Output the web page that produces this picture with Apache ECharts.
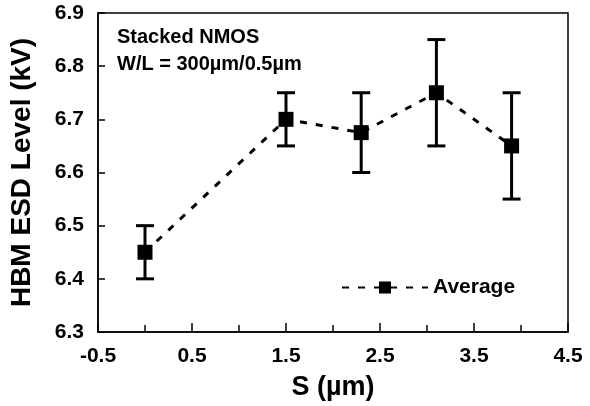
<!DOCTYPE html>
<html><head><meta charset="utf-8">
<script src="https://cdn.jsdelivr.net/npm/echarts@6/dist/echarts.min.js"></script>
<style>html,body{margin:0;padding:0;background:#fff}#c{width:590px;height:406px}</style>
</head><body><div id="c"></div>
<script>
var sValues = [0, 1.5, 2.3, 3.1, 3.9];
var avgValues = [6.45, 6.70, 6.675, 6.75, 6.65];
var lowValues = [6.40, 6.65, 6.60, 6.65, 6.55];
var highValues = [6.50, 6.75, 6.75, 6.85, 6.75];
var seriesName = 'Average';
var noteLines = ['Stacked NMOS', 'W/L = 300\u00b5m/0.5\u00b5m'];

var FONT = '"Liberation Sans", Arial, sans-serif';
var chart = echarts.init(document.getElementById('c'));
var lineData = sValues.map(function (x, i) { return [x, avgValues[i]]; });
var errData = sValues.map(function (x, i) { return [x, lowValues[i], highValues[i]]; });

chart.setOption({
  animation: false,
  grid: { left: 97, right: 22, top: 13, bottom: 68, show: true, borderColor: '#000', borderWidth: 1.5 },
  legend: {
    data: [seriesName], left: 336, top: 272, itemWidth: 86, itemHeight: 15, itemGap: 14,
    textStyle: { fontFamily: FONT, fontWeight: 'bold', fontSize: 21, color: '#000' }
  },
  graphic: [{
    type: 'text', left: 117, top: 24,
    style: { text: noteLines.join('\n'), font: 'bold 20px ' + FONT, fill: '#000', lineHeight: 27 }
  }],
  xAxis: {
    type: 'value', min: -0.5, max: 4.5, interval: 1,
    name: 'S (\u00b5m)', nameLocation: 'middle', nameGap: 42,
    nameTextStyle: { fontFamily: FONT, fontWeight: 'bold', fontSize: 27, color: '#000' },
    axisLine: { onZero: false, lineStyle: { color: '#000', width: 1.5 } },
    axisTick: { show: true, inside: true, length: 9, lineStyle: { color: '#000', width: 1.5 } },
    minorTick: { show: true, splitNumber: 2, length: 7, lineStyle: { color: '#000', width: 1.5 } },
    axisLabel: { fontFamily: FONT, fontWeight: 'bold', fontSize: 21, color: '#000', margin: 14 },
    splitLine: { show: false }
  },
  yAxis: {
    type: 'value', min: 6.3, max: 6.9, interval: 0.1,
    name: 'HBM ESD Level (kV)', nameLocation: 'middle', nameGap: 62,
    nameTextStyle: { fontFamily: FONT, fontWeight: 'bold', fontSize: 28, color: '#000' },
    axisLine: { onZero: false, lineStyle: { color: '#000', width: 1.5 } },
    axisTick: { show: true, inside: true, length: 7, lineStyle: { color: '#000', width: 1.5 } },
    axisLabel: { fontFamily: FONT, fontWeight: 'bold', fontSize: 21, color: '#000', margin: 14,
      formatter: function (v) { return v.toFixed(1); } },
    splitLine: { show: false }
  },
  series: [{
    type: 'custom', name: 'err', silent: true, z: 2,
    data: errData,
    renderItem: function (params, api) {
      var x = api.value(0);
      var lo = api.coord([x, api.value(1)]);
      var hi = api.coord([x, api.value(2)]);
      var hw = 9;
      var st = { stroke: '#000', lineWidth: 3 };
      return { type: 'group', children: [
        { type: 'line', shape: { x1: lo[0], y1: lo[1], x2: hi[0], y2: hi[1] }, style: st },
        { type: 'line', shape: { x1: lo[0] - hw, y1: lo[1], x2: lo[0] + hw, y2: lo[1] }, style: st },
        { type: 'line', shape: { x1: hi[0] - hw, y1: hi[1], x2: hi[0] + hw, y2: hi[1] }, style: st }
      ]};
    }
  }, {
    type: 'line', name: seriesName, z: 3,
    data: lineData,
    symbol: 'rect', symbolSize: 15,
    itemStyle: { color: '#000' },
    lineStyle: { color: '#000', width: 3, type: [7, 9] }
  }]
});
</script></body></html>
